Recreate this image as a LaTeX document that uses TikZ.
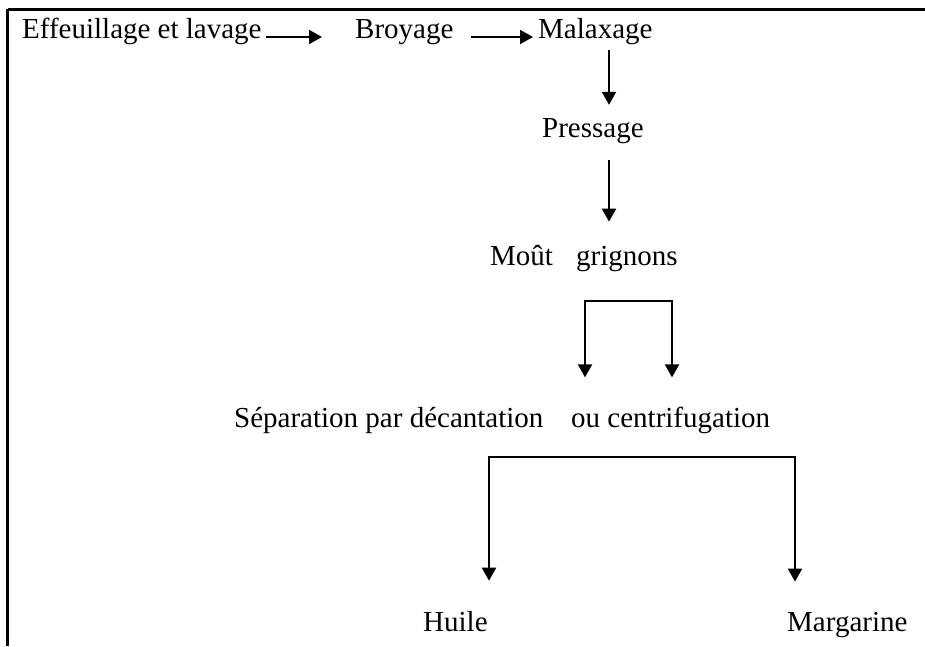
\documentclass[tikz,border=0pt]{standalone}
\usepackage{fontspec}
\setmainfont{Liberation Serif}
\usetikzlibrary{arrows.meta}
\tikzset{
  lbl/.style={anchor=base west, inner sep=0pt, font=\fontsize{29}{34}\selectfont},
  arr/.style={line width=2pt, -{Triangle[width=14pt,length=13pt]}},
  arrb/.style={line width=2pt, {Triangle[width=14pt,length=13pt]}-{Triangle[width=14pt,length=13pt]}},
  frame/.style={line width=3pt}
}
\begin{document}
\begin{tikzpicture}[x=1pt,y=-1pt]
\useasboundingbox (0,0) rectangle (925,646);
% frame
\coordinate (f0) at (7.5,9);
\coordinate (f1) at (925,9);
\coordinate (f2) at (7.5,646);
\draw[frame] (f1) -- (f0);
\draw[line width=2.5pt] (f0) -- (f2);

% nodes
\node[lbl] (e) at (22,38) {Effeuillage et lavage};
\node[lbl] (b) at (355,38) {Broyage};
\node[lbl] (m) at (538,38) {Malaxage};
\node[lbl] (p) at (542,137) {Pressage};
\node[lbl] (mo) at (490,265) {Moût};
\node[lbl] (g) at (576,265) {grignons};
\node[lbl] (s1) at (234,427) {Séparation par décantation};
\node[lbl] (s2) at (571,427) {ou centrifugation};
\node[lbl] (h) at (423,631) {Huile};
\node[lbl] (mg) at (787,631) {Margarine};

% horizontal arrows
\draw[arr] ([xshift=4pt,yshift=1pt]e.base east) -- ([xshift=-33pt,yshift=1pt]b.base west);
\draw[arr] ([xshift=17pt,yshift=1pt]b.base east) -- ([xshift=-5pt,yshift=1pt]m.base west);

% vertical arrows
\coordinate (v) at (609,0);
\draw[arr] ([yshift=-6pt]m.south -| v) -- ([yshift=13pt]p.north -| v);
\draw[arr] ([yshift=-17pt]p.south -| v) -- ([yshift=23pt]mo.north -| v);

% first bracket
\coordinate (t1) at (585,301);
\coordinate (t2) at (672,301);
\draw[arrb] ([yshift=29pt]t1 |- s2.north) -- (t1) -- (t2) -- ([yshift=29pt]t2 |- s2.north);

% second bracket
\coordinate (u1) at (489,457);
\coordinate (u2) at (795,457);
\draw[arrb] ([yshift=30pt]u1 |- h.north) -- (u1) -- (u2) -- ([yshift=30pt]u2 |- mg.north);
\end{tikzpicture}
\end{document}
